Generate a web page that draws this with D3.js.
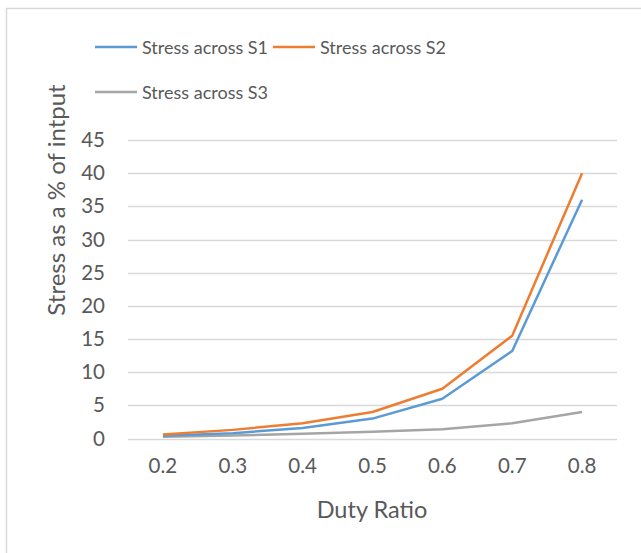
<!DOCTYPE html>
<html>
<head>
<meta charset="utf-8">
<script src="https://cdn.jsdelivr.net/npm/d3@7"></script>
<style>
  body { margin: 0; background: #fff; }
  svg { display: block; font-family: Lato, "Open Sans", sans-serif; }
</style>
</head>
<body>
<div id="chart"></div>
<script>
const duty = ['0.2', '0.3', '0.4', '0.5', '0.6', '0.7', '0.8'];
const s1 = [0.4, 0.8, 1.6, 3.0, 6.0, 13.2, 36.0];
const s2 = [0.6, 1.3, 2.3, 4.0, 7.5, 15.5, 40.0];
const s3 = [0.25, 0.45, 0.7, 1.0, 1.4, 2.3, 4.0];
const yTicks = [0, 5, 10, 15, 20, 25, 30, 35, 40, 45];
const seriesNames = ['Stress across S1', 'Stress across S2', 'Stress across S3'];

const colors = {
    s1: '#5b9bd5',
    s2: '#ed7d31',
    s3: '#a5a5a5',
    grid: '#d9d9d9',
    text: '#595959'
};

const width = 641,
    height = 553,
    plot = { left: 128, right: 617, top: 140, bottom: 438.5 };

const svg = d3.select('#chart').append('svg')
    .attr('width', width)
    .attr('height', height);

// chart border (runs off the right and bottom edges)
svg.append('rect')
    .attr('x', 6.5)
    .attr('y', 8.5)
    .attr('width', 700)
    .attr('height', 600)
    .attr('fill', 'none')
    .attr('stroke', colors.grid)
    .attr('stroke-width', 1.5);

const x = d3.scaleBand()
    .domain(duty)
    .range([plot.left, plot.right]);

const y = d3.scaleLinear()
    .domain([0, 45])
    .range([plot.bottom, plot.top]);

// gridlines
svg.append('g')
    .selectAll('line')
    .data(yTicks)
    .join('line')
    .attr('x1', plot.left)
    .attr('x2', plot.right)
    .attr('y1', d => Math.round(y(d)) + 0.5)
    .attr('y2', d => Math.round(y(d)) + 0.5)
    .attr('stroke', colors.grid)
    .attr('stroke-width', 1.3);

// y axis labels
const yAxis = svg.append('g')
    .attr('transform', `translate(${plot.left},0)`)
    .call(d3.axisLeft(y).tickValues(yTicks).tickSize(0).tickPadding(23));
yAxis.select('.domain').remove();
yAxis.selectAll('text')
    .attr('fill', colors.text)
    .style('font-size', '20.5px')
    .style('font-family', 'Lato, sans-serif');

// x axis labels
const xAxis = svg.append('g')
    .attr('transform', `translate(0,${plot.bottom})`)
    .call(d3.axisBottom(x).tickSize(0).tickPadding(20));
xAxis.select('.domain').remove();
xAxis.selectAll('text')
    .attr('fill', colors.text)
    .style('font-size', '20.5px')
    .style('font-family', 'Lato, sans-serif');

// axis titles
svg.append('text')
    .attr('x', 372)
    .attr('y', 518)
    .attr('text-anchor', 'middle')
    .attr('fill', colors.text)
    .style('font-size', '23.5px')
    .text('Duty Ratio');

svg.append('text')
    .attr('transform', 'translate(65,200) rotate(-90)')
    .attr('text-anchor', 'middle')
    .attr('fill', colors.text)
    .style('font-size', '24px')
    .text('Stress as a % of intput');

// series lines
const line = d3.line()
    .x((d, i) => x(duty[i]) + x.bandwidth() / 2)
    .y(d => y(d));

const series = [
    { name: seriesNames[0], values: s1, color: colors.s1 },
    { name: seriesNames[1], values: s2, color: colors.s2 },
    { name: seriesNames[2], values: s3, color: colors.s3 }
];

svg.append('g')
    .selectAll('path')
    .data([series[2], series[0], series[1]])
    .join('path')
    .attr('d', d => line(d.values))
    .attr('fill', 'none')
    .attr('stroke', d => d.color)
    .attr('stroke-width', 2.5)
    .attr('stroke-linejoin', 'round');

// legend
const legendPos = [[95, 47], [273, 47], [95, 92]];

const legend = svg.append('g')
    .selectAll('g')
    .data(series)
    .join('g')
    .attr('transform', (d, i) => `translate(${legendPos[i][0]},${legendPos[i][1]})`);

legend.append('line')
    .attr('x1', 0)
    .attr('x2', 42)
    .attr('stroke', d => d.color)
    .attr('stroke-width', 2.5);

legend.append('text')
    .attr('x', 47)
    .attr('y', 6.5)
    .attr('fill', colors.text)
    .style('font-size', '18px')
    .text(d => d.name);
</script>
</body>
</html>
